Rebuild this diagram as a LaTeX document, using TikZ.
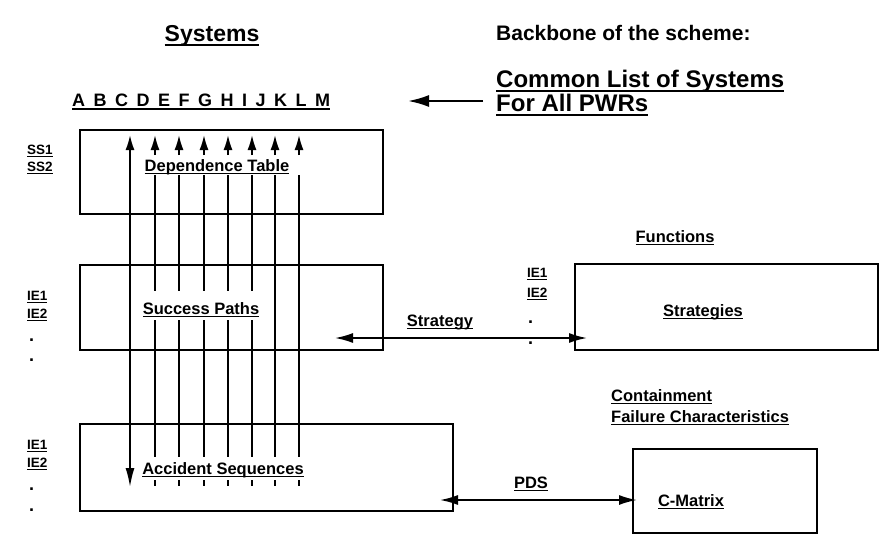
\documentclass[tikz,border=0pt]{standalone}
\usepackage{fontspec}
\setmainfont{Liberation Sans}
\usetikzlibrary{arrows.meta, positioning}

\newcommand{\undl}[1]{\setbox0\hbox{#1}\rlap{\rule[-0.2em]{\wd0}{0.08em}}\box0}
\newcommand{\fsz}[1]{\fontsize{#1}{#1}\selectfont\bfseries}

\begin{document}
\begin{tikzpicture}[
    x=1pt, y=-1pt,
    block/.style={draw, line width=1.7pt, inner sep=0pt},
    lbl/.style={font=\fsz{16.5}, inner sep=0pt, anchor=base},
    side/.style={font=\fsz{13.5}, inner sep=0pt, anchor=base west},
    dotmark/.style={font=\fsz{18}, inner sep=0pt, anchor=base west},
    head/.style={inner sep=0pt, anchor=base west},
    wire/.style={line width=1.7pt},
    arrow/.style={line width=1.7pt, -{Latex[length=15pt,width=9pt]}},
    dblarrow/.style={line width=1.7pt, {Latex[length=18pt,width=10pt]}-{Latex[length=18pt,width=10pt]}},
    bigarrow/.style={line width=2.2pt, -{Latex[length=21pt,width=12pt]}}
]
    \useasboundingbox (0,0) rectangle (881,536);

    % headings
    \node[inner sep=0pt, anchor=base, font=\fsz{23}] (sys) at (212,41) {\undl{Systems}};
    \node[head, font=\fsz{21}] (backbone) at (496,40) {Backbone of the scheme:};
    \node[head, font=\fsz{24}] (common) at (496,87) {\undl{Common List of Systems}};
    \node[head, font=\fsz{24}] (pwr) at (496,111) {\undl{For All PWRs}};
    \node[head, font=\fsz{18}] (letters) at (72,106) {\undl{\spaceskip=8.5pt A B C D E F G H I J K L M}};

    % boxes
    \node[block, minimum width=303pt, minimum height=84pt] (dep) at (231.5,172) {};
    \node[block, minimum width=303pt, minimum height=85pt] (succ) at (231.5,307.5) {};
    \node[block, minimum width=373pt, minimum height=87pt] (acc) at (266.5,467.5) {};
    \node[block, minimum width=303pt, minimum height=86pt] (strat) at (726.5,307) {};
    \node[block, minimum width=184pt, minimum height=84pt] (cmat) at (725,491) {};

    % box labels
    \node[lbl] (deplbl) at (217,171) {\undl{Dependence Table}};
    \node[lbl] (succlbl) at (201,314) {\undl{Success Paths}};
    \node[lbl] (acclbl) at (223,474) {\undl{Accident Sequences}};
    \node[lbl] (stratlbl) at (703,316) {\undl{Strategies}};
    \node[lbl] (cmatlbl) at (691,506) {\undl{C-Matrix}};
    \node[lbl] (func) at (675,242) {\undl{Functions}};
    \node[lbl, anchor=base west] (cont) at (611,401) {\undl{Containment}};
    \node[lbl, anchor=base west] (fail) at (611,422) {\undl{Failure Characteristics}};
    \node[lbl] (stratgy) at (440,326) {\undl{Strategy}};
    \node[lbl] (pds) at (531,488) {\undl{PDS}};

    % left labels
    \foreach \y/\t in {154/SS1, 171/SS2, 300/IE1, 318/IE2, 449/IE1, 467/IE2}
        \node[side] (s\y) at (27,\y) {\undl{\t}};
    \foreach \y in {341, 361, 490, 511}
        \node[dotmark] (d\y) at (29,\y) {.};
    % right labels
    \node[side] (r1) at (527,277) {\undl{IE1}};
    \node[side] (r2) at (527,297) {\undl{IE2}};
    \node[dotmark] (rd1) at (528,323) {.};
    \node[dotmark] (rd2) at (528,344) {.};

    % system lines
    \coordinate (mTop) at (130,135);
    \coordinate (mBot) at (130,487);
    \draw[wire, {Latex[length=15pt,width=9pt]}-{Latex[length=19pt,width=9pt]}] (mTop) -- (mBot);
    \foreach \x/\brk in {155/1, 179/1, 204/1, 228/1, 252/1, 275/0, 299/0} {
        \coordinate (t\x) at (\x,135);
        \coordinate (h\x) at (\x,155);
        \coordinate (a\x) at (\x,175);
        \coordinate (e\x) at (\x,457);
        \draw[arrow] (h\x) -- (t\x);
        \ifnum\brk=1
            \coordinate (b\x) at (\x,291);
            \coordinate (c\x) at (\x,320);
            \draw[wire] (a\x) -- (b\x);
            \draw[wire] (c\x) -- (e\x);
        \else
            \draw[wire] (a\x) -- (e\x);
        \fi
        \coordinate (k\x) at (\x,480);
        \coordinate (l\x) at (\x,486);
        \draw[wire] (k\x) -- (l\x);
    }

    % links
    \coordinate (listA) at (483,101);
    \coordinate (listB) at (408,101);
    \draw[bigarrow] (listA) -- (listB);
    \coordinate (strL) at (335,338);
    \coordinate (strR) at (587,338);
    \draw[dblarrow] (strL) -- (strR);
    \coordinate (pdsL) at (440,500);
    \coordinate (pdsR) at (637,500);
    \draw[dblarrow] (pdsL) -- (pdsR);
\end{tikzpicture}
\end{document}
